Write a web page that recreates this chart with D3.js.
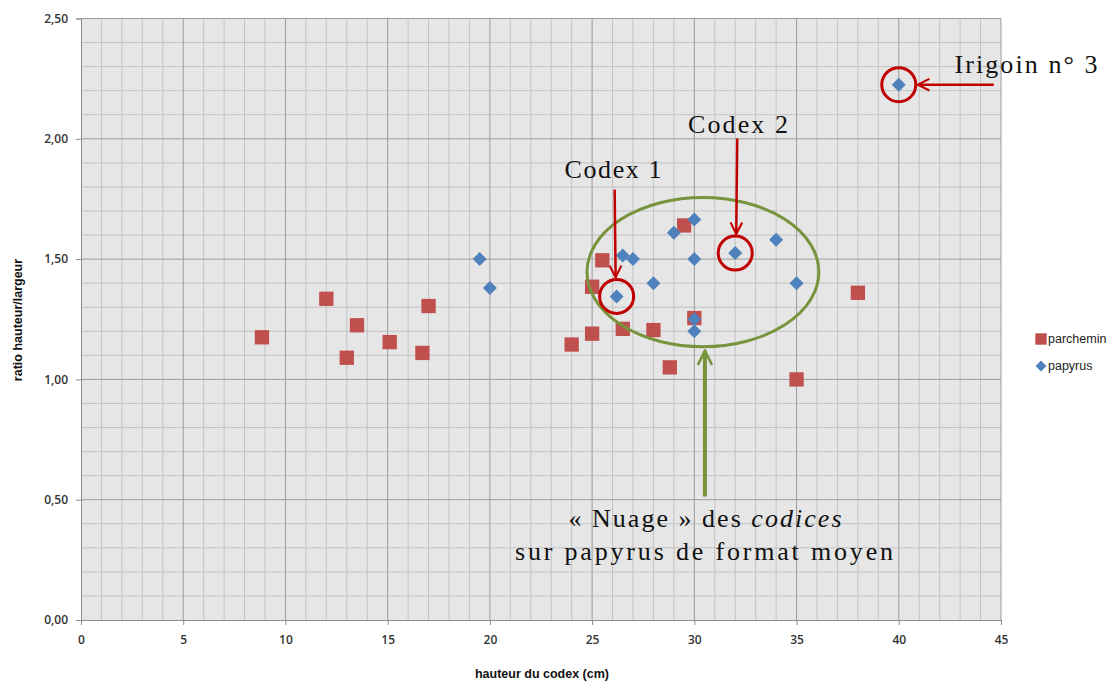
<!DOCTYPE html>
<html>
<head>
<meta charset="utf-8">
<script src="https://cdn.jsdelivr.net/npm/d3@7"></script>
<style>
  body { margin: 0; background: #fff; }
  svg { display: block; }
</style>
</head>
<body>
<svg class="chart" width="1119" height="684"></svg>
<script>
// parchemin series (red squares)
const parcheminX = [8.85, 12, 13.5, 13, 15.1, 17, 16.7, 24, 25, 25, 25.5, 26.5, 28, 29.5, 30, 28.8, 35, 38];
const parcheminY = [1.175, 1.335, 1.225, 1.09, 1.155, 1.305, 1.11, 1.145, 1.19, 1.385, 1.495, 1.21, 1.205, 1.64, 1.255, 1.05, 1.0, 1.36];
// papyrus series (blue diamonds)
const papyrusX = [19.5, 20, 26.5, 27, 26.2, 28, 29, 30, 30, 30, 30, 32, 34, 35, 40];
const papyrusY = [1.5, 1.38, 1.515, 1.5, 1.345, 1.4, 1.61, 1.665, 1.5, 1.25, 1.2, 1.525, 1.58, 1.4, 2.225];

const xTicks = [0, 5, 10, 15, 20, 25, 30, 35, 40, 45];
const yTicks = [0, 0.5, 1, 1.5, 2, 2.5];
const seriesNames = ['parchemin', 'papyrus'];

// annotated points
const codex1 = [26.2, 1.345];
const codex2 = [32, 1.525];
const irigoin = [40, 2.225];
const cloud = { cx: 30.42, cy: 1.446, rx: 5.67, ry: 0.31 };

const startApp = () => {
  const margin = { top: 18.5, left: 81, bottom: 64, right: 118 };
  const size = { width: 1119, height: 684 };
  const width = size.width - margin.left - margin.right;
  const height = size.height - margin.top - margin.bottom;
  const red = '#C0504D';
  const blue = '#4F81BD';
  const annotRed = '#C00000';
  const green = '#77933C';

  const x = d3.scaleLinear().domain([0, 45]).range([0, width]);
  const y = d3.scaleLinear().domain([0, 2.5]).range([height, 0]);

  const svg = d3.select('.chart');
  const defs = svg.append('defs');
  [['arrRed', annotRed], ['arrGreen', green]].forEach(([id, col]) => {
    defs.append('marker')
      .attr('id', id)
      .attr('viewBox', '0 0 12 12')
      .attr('refX', 11).attr('refY', 6)
      .attr('markerWidth', id === 'arrGreen' ? 17 : 14)
      .attr('markerHeight', id === 'arrGreen' ? 17 : 14)
      .attr('markerUnits', 'userSpaceOnUse')
      .attr('orient', 'auto')
      .append('path')
      .attr('d', 'M1,1 L11,6 L1,11')
      .attr('fill', 'none')
      .attr('stroke', col)
      .attr('stroke-width', 1.8);
  });

  const chart = svg.append('g')
    .attr('transform', `translate(${margin.left}, ${margin.top})`);

  chart.append('rect')
    .attr('width', width).attr('height', height)
    .attr('fill', '#E6E6E6');

  // minor grid
  chart.append('g').selectAll('line')
    .data(d3.range(1, 45).filter((v) => v % 5 !== 0))
    .join('line')
    .attr('x1', (d) => x(d)).attr('x2', (d) => x(d))
    .attr('y1', 0).attr('y2', height)
    .attr('stroke', '#C3C3C3');
  chart.append('g').selectAll('line')
    .data(d3.range(1, 25).filter((v) => v % 5 !== 0))
    .join('line')
    .attr('y1', (d) => y(d / 10)).attr('y2', (d) => y(d / 10))
    .attr('x1', 0).attr('x2', width)
    .attr('stroke', '#C3C3C3');
  // major grid
  chart.append('g').selectAll('line')
    .data(xTicks.slice(1))
    .join('line')
    .attr('x1', (d) => x(d)).attr('x2', (d) => x(d))
    .attr('y1', 0).attr('y2', height)
    .attr('stroke', '#9C9C9C');
  chart.append('g').selectAll('line')
    .data(yTicks.slice(1))
    .join('line')
    .attr('y1', (d) => y(d)).attr('y2', (d) => y(d))
    .attr('x1', 0).attr('x2', width)
    .attr('stroke', '#9C9C9C');

  const fmt = (d) => d3.format('.2f')(d).replace('.', ',');
  const xAxis = chart.append('g')
    .attr('transform', `translate(0, ${height})`)
    .call(d3.axisBottom(x).tickValues(xTicks).tickSize(5).tickPadding(10));
  const yAxis = chart.append('g')
    .call(d3.axisLeft(y).tickValues(yTicks).tickFormat(fmt).tickSize(5).tickPadding(8));
  [xAxis, yAxis].forEach((ax) => {
    ax.select('.domain').attr('stroke', '#8C8C8C');
    ax.selectAll('.tick line').attr('stroke', '#8C8C8C');
    ax.selectAll('text')
      .attr('font-family', 'Open Sans, Liberation Sans, sans-serif')
      .attr('font-size', 12)
      .attr('font-weight', 600)
      .attr('fill', '#333');
  });

  svg.append('text')
    .attr('x', 542).attr('y', 678)
    .attr('text-anchor', 'middle')
    .attr('font-family', 'Liberation Sans, sans-serif')
    .attr('font-weight', 'bold')
    .attr('font-size', 12.5)
    .attr('fill', '#111')
    .text('hauteur du codex (cm)');
  svg.append('text')
    .attr('transform', 'translate(22, 320) rotate(-90)')
    .attr('text-anchor', 'middle')
    .attr('font-family', 'Liberation Sans, sans-serif')
    .attr('font-weight', 'bold')
    .attr('font-size', 12.5)
    .attr('fill', '#111')
    .text('ratio hauteur/largeur');

  // points
  const parchemin = parcheminX.map((v, i) => [v, parcheminY[i]]);
  const papyrus = papyrusX.map((v, i) => [v, papyrusY[i]]);
  const square = d3.symbol(d3.symbolSquare, 205);
  const diamond = d3.symbol(d3.symbolDiamond2, 125);

  chart.append('g').selectAll('path')
    .data(parchemin)
    .join('path')
    .attr('transform', (d) => `translate(${x(d[0])}, ${y(d[1])})`)
    .attr('d', square)
    .attr('fill', red);
  chart.append('g').selectAll('path')
    .data(papyrus)
    .join('path')
    .attr('transform', (d) => `translate(${x(d[0])}, ${y(d[1])})`)
    .attr('d', diamond)
    .attr('fill', blue);

  // legend
  const legend = svg.append('g').attr('transform', 'translate(1041, 339)');
  legend.selectAll('path')
    .data(seriesNames)
    .join('path')
    .attr('transform', (d, i) => `translate(0, ${i * 27})`)
    .attr('d', (d, i) => (i === 0 ? d3.symbol(d3.symbolSquare, 130)() : d3.symbol(d3.symbolDiamond2, 75)()))
    .attr('fill', (d, i) => (i === 0 ? red : blue));
  legend.selectAll('text')
    .data(seriesNames)
    .join('text')
    .attr('x', 7)
    .attr('y', (d, i) => i * 27 + 4)
    .attr('font-family', 'Liberation Sans, sans-serif')
    .attr('font-size', 12.5)
    .attr('fill', '#222')
    .text((d) => d);

  // annotations
  const ann = chart.append('g');
  ann.append('ellipse')
    .attr('cx', x(cloud.cx)).attr('cy', y(cloud.cy))
    .attr('rx', x(cloud.rx) - x(0)).attr('ry', y(0) - y(cloud.ry))
    .attr('fill', 'none')
    .attr('stroke', green)
    .attr('stroke-width', 3);

  [codex1, codex2, irigoin].forEach((p) => {
    ann.append('circle')
      .attr('cx', x(p[0])).attr('cy', y(p[1]))
      .attr('r', 17)
      .attr('fill', 'none')
      .attr('stroke', annotRed)
      .attr('stroke-width', 3);
  });

  const arrow = (x1, y1, x2, y2, col, w, id) => ann.append('line')
    .attr('x1', x1).attr('y1', y1).attr('x2', x2).attr('y2', y2)
    .attr('stroke', col).attr('stroke-width', w)
    .attr('marker-end', `url(#${id})`);

  arrow(x(codex1[0]) - 2, 171, x(codex1[0]) - 1, y(codex1[1]) - 19, annotRed, 2.5, 'arrRed');
  arrow(x(codex2[0]) + 2, 120, x(codex2[0]) + 1, y(codex2[1]) - 19, annotRed, 2.5, 'arrRed');
  arrow(x(irigoin[0]) + 95, y(irigoin[1]), x(irigoin[0]) + 19, y(irigoin[1]), annotRed, 2.5, 'arrRed');
  arrow(x(cloud.cx) + 2, 478, x(cloud.cx) + 2, y(cloud.cy - cloud.ry) + 4, green, 4, 'arrGreen');

  const serif = 'Liberation Serif, DejaVu Serif, serif';
  const label = (tx, ty, len) => svg.append('text')
    .attr('x', tx).attr('y', ty)
    .attr('text-anchor', 'middle')
    .attr('font-family', serif)
    .attr('font-size', 26)
    .attr('fill', '#111')
    .attr('textLength', len)
    .attr('lengthAdjust', 'spacing');

  label(613, 178, 97).text('Codex 1');
  label(738, 133, 100).text('Codex 2');
  label(1026, 73, 143).text('Irigoin n° 3');
  const l1 = label(705, 527, 273);
  l1.append('tspan').text('« Nuage » des ');
  l1.append('tspan').attr('font-style', 'italic').text('codices');
  label(704, 560, 378).text('sur papyrus de format moyen');
};

window.onload = startApp;
</script>
</body>
</html>
